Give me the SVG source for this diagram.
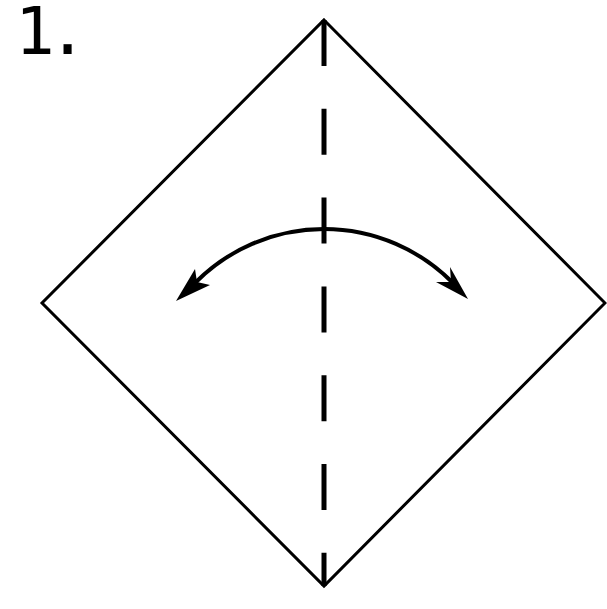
<svg xmlns="http://www.w3.org/2000/svg" width="607" height="609" viewBox="0 0 607 609">
<style>
.edge{fill:none;stroke:#000;stroke-width:3}
.fold{fill:none;stroke:#000;stroke-width:5;stroke-dasharray:46 42.8}
.arc{fill:none;stroke:#000;stroke-width:4}
.head{fill:#000;stroke:none}
.label{font-family:"DejaVu Sans Mono",monospace;font-size:66px;fill:#000;letter-spacing:-7px}
</style>
<rect width="607" height="609" fill="#fff"/>
<g id="step-label"><text class="label" x="15" y="54">1.</text></g>
<g id="paper"><polygon class="edge" points="324,20 605,303 324,586 42,303"/></g>
<g id="connectors">
<line class="fold" x1="324" y1="20" x2="324" y2="586"/>
<path class="arc" d="M196,282 A181,181 0 0 1 452,282"/>
<polygon class="head" points="176,301 195,269 197,282 210,285"/>
<polygon class="head" points="468,299 450,267 451,282 436,282"/>
</g>
</svg>
